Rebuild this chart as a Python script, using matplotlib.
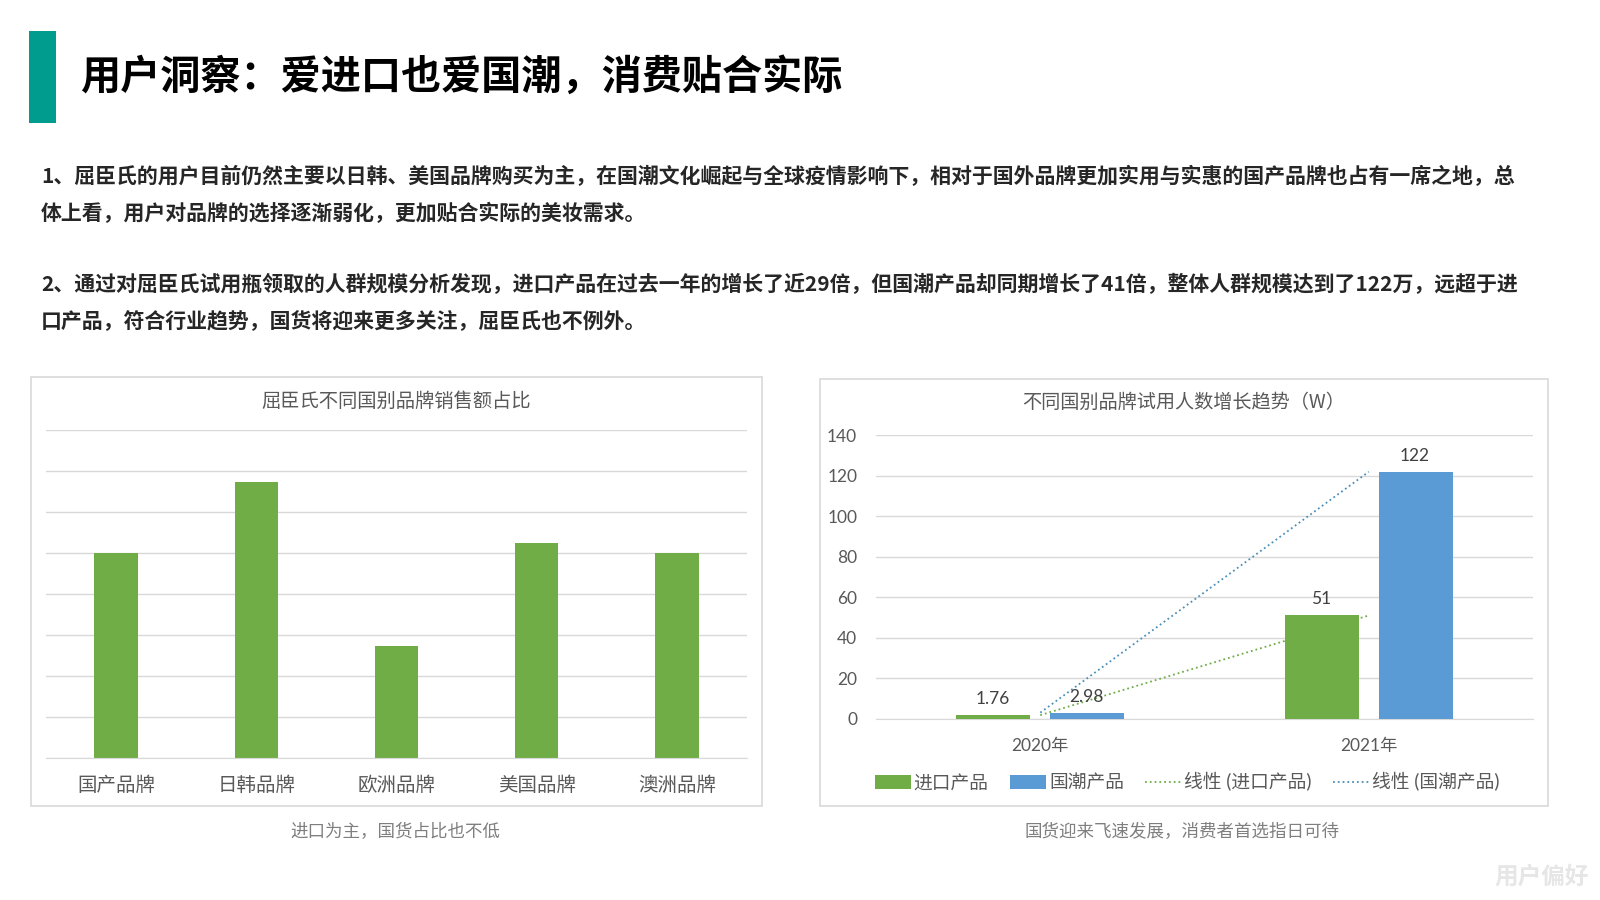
import matplotlib
matplotlib.use('Agg')
import matplotlib.pyplot as plt
from matplotlib.patches import Rectangle
import numpy as np

plt.rcParams['font.family'] = ['Noto Sans CJK SC', 'DejaVu Sans']

W, H = 1600, 900

page_title = '用户洞察：爱进口也爱国潮，消费贴合实际'
body_lines = [
    '1、屈臣氏的用户目前仍然主要以日韩、美国品牌购买为主，在国潮文化崛起与全球疫情影响下，相对于国外品牌更加实用与实惠的国产品牌也占有一席之地，总',
    '体上看，用户对品牌的选择逐渐弱化，更加贴合实际的美妆需求。',
    '2、通过对屈臣氏试用瓶领取的人群规模分析发现，进口产品在过去一年的增长了近29倍，但国潮产品却同期增长了41倍，整体人群规模达到了122万，远超于进',
    '口产品，符合行业趋势，国货将迎来更多关注，屈臣氏也不例外。',
]
body_y = [176.5, 213, 285, 320.5]

brands = ['国产品牌', '日韩品牌', '欧洲品牌', '美国品牌', '澳洲品牌']
brand_share = [25, 33.7, 13.7, 26.2, 25]

years = ['2020年', '2021年']
imported = [1.76, 51]
domestic = [2.98, 122]
year_ticks = [0, 20, 40, 60, 80, 100, 120, 140]

GREEN = '#70AD47'
BLUE = '#5B9BD5'
GRID = '#D9D9D9'
GREY = '#595959'
latin = ['Lato', 'Noto Sans CJK SC']


def px_axes(fig, x0, y0, x1, y1):
    # pixel box, y measured from the top of the image
    return fig.add_axes([x0 / W, 1 - y1 / H, (x1 - x0) / W, (y1 - y0) / H])


def px_text(fig, x, y, s, **kw):
    kw.setdefault('va', 'center')
    return fig.text(x / W, 1 - y / H, s, **kw)


def px_box(fig, x0, y0, x1, y1, **kw):
    fig.add_artist(Rectangle((x0 / W, 1 - y1 / H), (x1 - x0) / W, (y1 - y0) / H,
                             transform=fig.transFigure, **kw))


def clean_axes(ax):
    for name in ['top', 'left', 'right']:
        ax.spines[name].set_visible(False)
    ax.spines['bottom'].set_color(GRID)
    ax.grid(axis='y', color=GRID, lw=1)
    ax.set_axisbelow(True)
    ax.tick_params(length=0, colors=GREY)


fig = plt.figure(figsize=(16, 9), dpi=100, facecolor='white')

# header
px_box(fig, 29, 31, 56, 123, facecolor='#009C8E', edgecolor='none')
px_text(fig, 80, 77, page_title, fontsize=28.9, fontweight='bold', color='black')
for line, y in zip(body_lines, body_y):
    px_text(fig, 41, y, line, fontsize=15.06, fontweight='bold', color='#262626')

# panels
px_box(fig, 30.5, 377, 762, 806, facecolor='none', edgecolor=GRID, lw=1.2)
px_box(fig, 819.5, 379, 1548, 806, facecolor='none', edgecolor=GRID, lw=1.2)

# left chart
ax1 = px_axes(fig, 46, 430.3, 747, 758.3)
clean_axes(ax1)
ax1.bar(range(len(brands)), brand_share, width=0.31, color=GREEN)
ax1.set_xlim(-0.5, len(brands) - 0.5)
ax1.set_ylim(0, 40)
ax1.set_yticks(np.arange(0, 41, 5))
ax1.set_yticklabels([])
ax1.set_xticks(range(len(brands)))
ax1.set_xticklabels(brands, fontsize=14)
ax1.tick_params(axis='x', pad=12.2)
px_text(fig, 396, 401, '屈臣氏不同国别品牌销售额占比', fontsize=13.9, color=GREY, ha='center')

# right chart
ax2 = px_axes(fig, 876, 435.3, 1533, 718.7)
clean_axes(ax2)
xs = np.arange(len(years))
bw = 0.225
off = 0.1425
bars_a = ax2.bar(xs - off, imported, width=bw, color=GREEN, label='进口产品', zorder=3)
bars_b = ax2.bar(xs + off, domestic, width=bw, color=BLUE, label='国潮产品', zorder=3)
fit_a = np.polyval(np.polyfit(xs, imported, 1), xs)
fit_b = np.polyval(np.polyfit(xs, domestic, 1), xs)
line_a, = ax2.plot(xs, fit_a, ls=':', lw=1.3, color=GREEN, label='线性 (进口产品)', zorder=2)
line_b, = ax2.plot(xs, fit_b, ls=':', lw=1.3, color='#4A90B8', label='线性 (国潮产品)', zorder=2)
ax2.set_xlim(-0.5, 1.5)
ax2.set_ylim(0, 140)
ax2.set_yticks(year_ticks)
ax2.set_yticklabels(year_ticks, fontsize=12.5, family=latin)
ax2.set_xticks(xs)
ax2.set_xticklabels(years, fontsize=12.5, family=latin)
ax2.tick_params(axis='y', pad=13.5)
ax2.tick_params(axis='x', pad=14)
for bars, vals in [(bars_a, imported), (bars_b, domestic)]:
    for rect, v in zip(bars, vals):
        ax2.annotate(f'{v:g}', (rect.get_x() + rect.get_width() / 2, v), xytext=(-0.5, 11.5),
                     textcoords='offset points', ha='center', va='center',
                     fontsize=12.5, color='#404040', family=latin)
ax2.legend(handles=[bars_a, bars_b, line_a, line_b], loc='center',
           bbox_to_anchor=(1187 / W, 1 - 782 / H), bbox_transform=fig.transFigure,
           ncol=4, frameon=False, labelcolor=GREY, prop={'family': latin, 'size': 13.5},
           handlelength=1.94, handleheight=0.7, handletextpad=0.15, columnspacing=1.12, borderpad=0)
px_text(fig, 1184, 402, '不同国别品牌试用人数增长趋势（W）', fontsize=13.8, color=GREY, ha='center')

# captions and corner label
px_text(fig, 395, 832.5, '进口为主，国货占比也不低', fontsize=12.6, color='#7F7F7F', ha='center')
px_text(fig, 1182, 832.5, '国货迎来飞速发展，消费者首选指日可待', fontsize=12.6, color='#7F7F7F', ha='center')
px_text(fig, 1589, 877, '用户偏好', fontsize=17, fontweight='bold', color='#E6E6E6', ha='right')

fig.savefig('out.png', dpi=100)
